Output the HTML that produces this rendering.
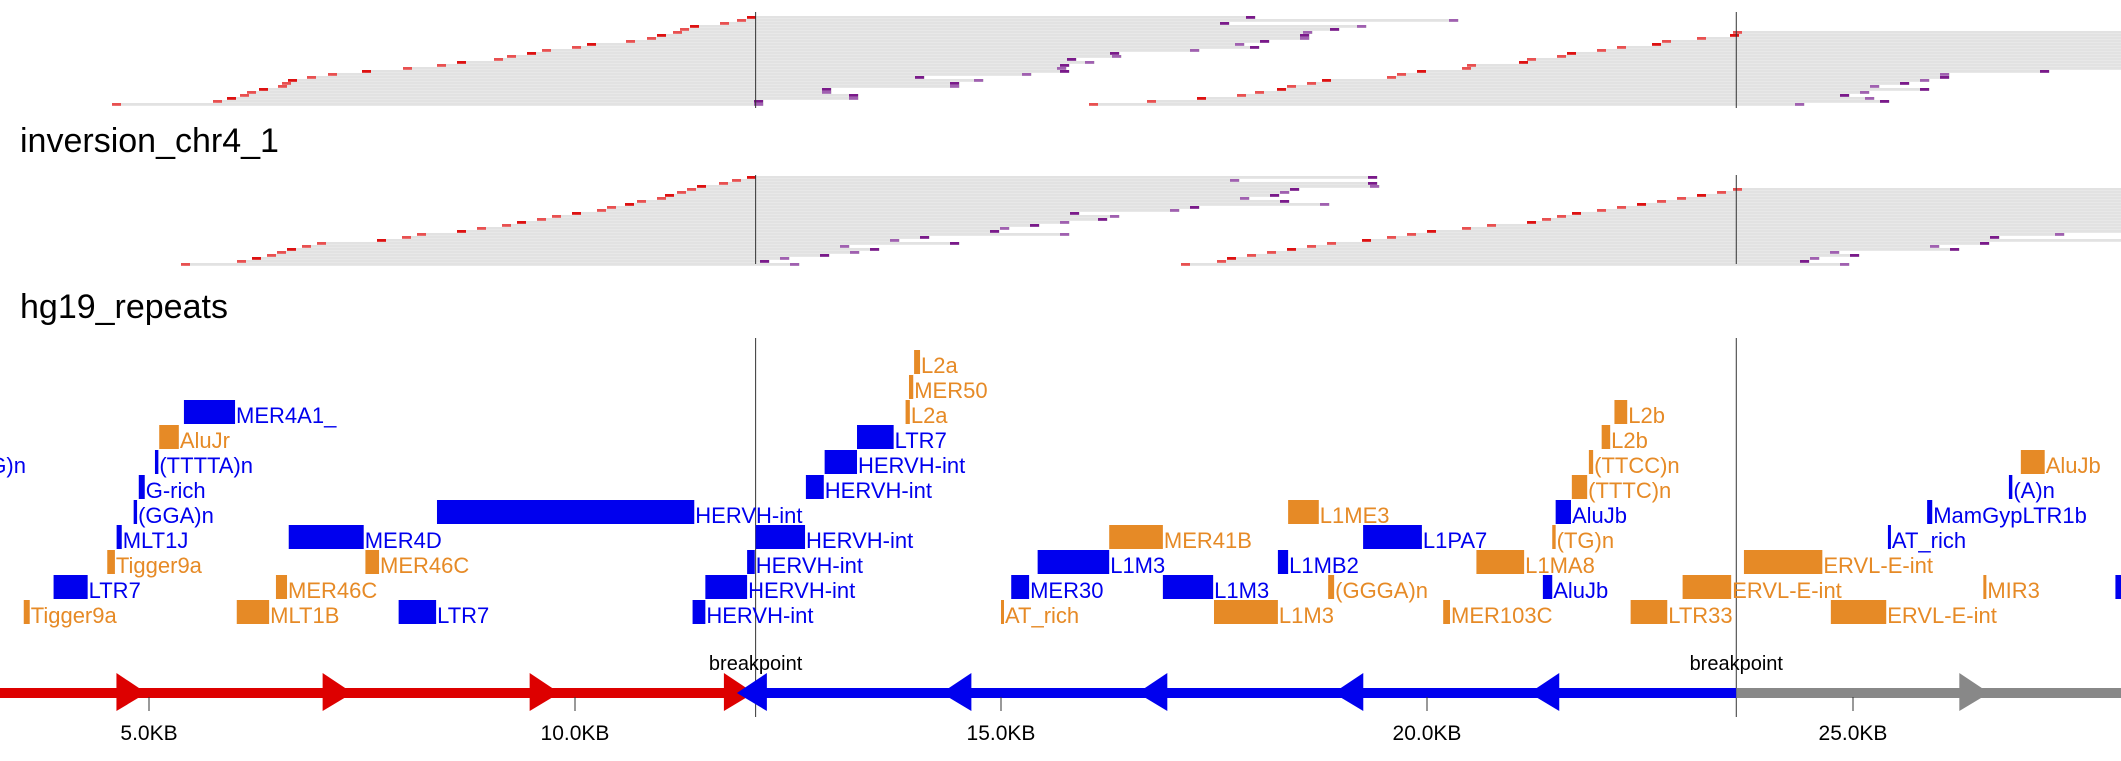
<!DOCTYPE html>
<html><head><meta charset="utf-8"><style>
html,body{margin:0;padding:0;background:#fff;}
svg{display:block;font-family:"Liberation Sans",Arial,sans-serif;}
</style></head><body>
<svg id="chart" width="2121" height="761" viewBox="0 0 2121 761" xmlns="http://www.w3.org/2000/svg">
<g id="reads1"></g>
<text x="20" y="152" font-size="34" fill="#000">inversion_chr4_1</text>
<g id="reads2"></g>
<text x="20" y="318" font-size="34" fill="#000">hg19_repeats</text>
<g id="repeats"></g>
<g id="axis"></g>
</svg>
<script>
// ---- axis data ----
const tickKb = [5, 10, 15, 20, 25];
const tickLabels = ["5.0KB", "10.0KB", "15.0KB", "20.0KB", "25.0KB"];
const breakpointsKb = [12.12, 23.63];
const segStart = [0, 12.12, 23.63];
const segEnd = [12.12, 23.63, 30];
const segDir = [1, -1, 1];
const segColor = ["#dd0000", "#0000ee", "#888888"];
const arrowTipsKb = [[4.97, 7.39, 9.82, 12.1], [11.9, 14.3, 16.6, 18.9, 21.2], [26.6]];

// ---- repeats data (kb) ----
const repStart = [3.53,6.03,7.93,11.38,15.0,17.50,20.19,22.39,24.74,
  3.88,6.49,11.53,15.12,16.90,18.84,21.36,23.00,26.53,28.08,
  4.51,7.54,12.02,15.43,18.25,20.58,23.72,
  4.62,6.64,12.12,16.27,19.25,21.47,25.41,
  4.82,8.38,18.37,21.51,25.87,
  4.88,12.71,21.70,26.83,
  5.07,12.93,21.90,26.97,
  5.12,13.31,22.05,
  5.41,13.88,22.20,
  13.92,
  13.98];
const repEnd = [3.60,6.41,8.37,11.53,15.02,18.25,20.27,22.82,25.39,
  4.28,6.62,12.02,15.33,17.49,18.91,21.47,23.57,26.56,28.15,
  4.60,7.70,12.11,16.27,18.37,21.14,24.64,
  4.68,7.52,12.70,16.90,19.94,21.51,25.43,
  4.86,11.40,18.73,21.69,25.93,
  4.95,12.92,21.88,26.87,
  5.11,13.31,21.95,27.25,
  5.35,13.74,22.15,
  6.01,13.93,22.35,
  13.97,
  14.05];
const repRow = [0,0,0,0,0,0,0,0,0, 1,1,1,1,1,1,1,1,1,1, 2,2,2,2,2,2,2, 3,3,3,3,3,3,3, 4,4,4,4,4, 5,5,5,5, 6,6,6,6, 7,7,7, 8,8,8, 9, 10];
const repName = ["Tigger9a","MLT1B","LTR7","HERVH-int","AT_rich","L1M3","MER103C","LTR33","ERVL-E-int",
  "LTR7","MER46C","HERVH-int","MER30","L1M3","(GGGA)n","AluJb","ERVL-E-int","MIR3","",
  "Tigger9a","MER46C","HERVH-int","L1M3","L1MB2","L1MA8","ERVL-E-int",
  "MLT1J","MER4D","HERVH-int","MER41B","L1PA7","(TG)n","AT_rich",
  "(GGA)n","HERVH-int","L1ME3","AluJb","MamGypLTR1b",
  "G-rich","HERVH-int","(TTTC)n","(A)n",
  "(TTTTA)n","HERVH-int","(TTCC)n","AluJb",
  "AluJr","LTR7","L2b",
  "MER4A1_","L2a","L2b",
  "MER50",
  "L2a"];
const repCls = ["o","o","b","b","o","o","o","o","o",
  "b","o","b","b","b","o","b","o","o","b",
  "o","o","b","b","b","o","o",
  "b","b","b","o","b","o","b",
  "b","b","o","b","b",
  "b","b","o","b",
  "b","b","o","o",
  "o","b","o",
  "b","o","o",
  "o",
  "o"];

// ---- reads data (track 1) ----
const t1AL = [750,740,723,693,683,676,660,650,629,590,575,545,530,510,497,460,440,406,365,331,310,291,285,281,262,250,243,230,216,115];
const t1AR = [1256,1459,1230,1367,1340,1313,1310,1310,1270,1245,1260,1200,1120,1122,1077,1095,1070,1067,1070,1032,925,984,960,960,832,832,859,859,764,764];
const t1BL = [null,null,null,null,null,1736,1733,1700,1665,1655,1620,1600,1570,1560,1530,1522,1470,1465,1420,1400,1390,1325,1310,1290,1280,1258,1240,1200,1150,1092];
const t1BR = [0,0,0,0,0,2121,2121,2121,2121,2121,2121,2121,2121,2121,2121,2121,2121,2121,2050,1950,1950,1930,1910,1880,1930,1870,1850,1875,1890,1805];
// ---- reads data (track 2) ----
const t2AL = [750,735,722,700,690,680,668,660,640,628,610,600,575,555,540,520,505,480,460,420,405,380,320,305,290,280,270,255,240,184];
const t2AR = [1378,1240,1378,1380,1300,1290,1280,1250,1290,1330,1200,1180,1080,1120,1108,1070,1040,1010,1000,1070,930,900,960,850,880,860,830,790,770,800];
const t2BL = [null,null,null,null,1736,1720,1700,1680,1660,1640,1620,1600,1575,1560,1545,1530,1490,1465,1430,1410,1390,1365,1330,1310,1290,1270,1250,1230,1220,1184];
const t2BR = [0,0,0,0,2121,2121,2121,2121,2121,2121,2121,2121,2121,2121,2121,2121,2121,2121,2121,2065,2000,2121,1990,1940,1960,1840,1860,1820,1810,1850];

const NS = "http://www.w3.org/2000/svg";
const X0 = 149, PXKB = 85.2;
function xs(kb){ return X0 + (kb - 5) * PXKB; }
function mk(tag, attrs, parent){ const e = document.createElementNS(NS, tag); for (const k in attrs) e.setAttribute(k, attrs[k]); parent.appendChild(e); return e; }

function drawReads(g, top, AL, AR, BL, BR, bpTop, bpBot){
  const step = 3;
  for (let i = 0; i < AL.length; i++){
    const y = top + i * step;
    const r = mk("rect", {x: AL[i], y: y, width: AR[i] - AL[i], height: 2.8, fill: "#e2e2e2"}, g);
    
    
    const c = mk("rect", {x: AL[i] - 3, y: y, width: 9, height: 2.8, fill: i % 3 ? "#e85050" : "#dd1111"}, g);
    
    
    const p = mk("rect", {x: AR[i] - 10, y: y, width: 9, height: 2.8, fill: i % 2 ? "#a060b0" : "#7a1a8a"}, g);
    
    
    if (BL[i] !== null){
      const r2 = mk("rect", {x: BL[i], y: y, width: BR[i] - BL[i], height: 2.8, fill: "#e2e2e2"}, g);
      
      
      const c2 = mk("rect", {x: BL[i] - 3, y: y, width: 9, height: 2.8, fill: i % 3 ? "#e85050" : "#dd1111"}, g);
      
      
      if (BR[i] < 2121){
        const p2 = mk("rect", {x: BR[i] - 10, y: y, width: 9, height: 2.8, fill: i % 2 ? "#a060b0" : "#7a1a8a"}, g);
        
        
      }
    }
  }
  breakpointsKb.forEach(b => {
    const l = mk("line", {x1: xs(b), x2: xs(b), y1: bpTop, y2: bpBot, stroke: "#333", "stroke-width": 1}, g);
    
    
  });
}
drawReads(document.getElementById("reads1"), 16, t1AL, t1AR, t1BL, t1BR, 12, 108);
drawReads(document.getElementById("reads2"), 176, t2AL, t2AR, t2BL, t2BR, 175, 264);

const rg = document.getElementById("repeats");
breakpointsKb.forEach(b => {
  const l = mk("line", {x1: xs(b), x2: xs(b), y1: 338, y2: 717, stroke: "#333", "stroke-width": 1}, rg);
  
  
});
function drawRep(s, e, row, name, cls){
  const col = cls === "b" ? "#0000ee" : "#e68a26";
  const top = 600 - 25 * row;
  const x1 = xs(s), x2 = Math.max(xs(e), x1 + 3);
  const r = mk("rect", {x: x1, y: top, width: x2 - x1, height: 24, fill: col}, rg);
  
  
  if (name){
    const t = mk("text", {x: x2 + 1, y: top + 23, "font-size": 22, fill: col}, rg);
    t.textContent = name;
    
    
  }
}
for (let i = 0; i < repStart.length; i++) drawRep(repStart[i], repEnd[i], repRow[i], repName[i], repCls[i]);
const gl = mk("text", {x: 26, y: 473, "font-size": 22, fill: "#0000ee", "text-anchor": "end"}, rg);
gl.textContent = "(GG)n";



const ag = document.getElementById("axis");
for (let s = 0; s < segStart.length; s++){
  const x1 = Math.max(0, xs(segStart[s])), x2 = Math.min(2121, xs(segEnd[s]));
  const l = mk("rect", {x: x1, y: 688, width: x2 - x1, height: 10, fill: segColor[s]}, ag);
  
  
  arrowTipsKb[s].forEach(k => {
    const tip = xs(k), base = tip - 30 * segDir[s];
    const p = mk("polygon", {points: `${base},673 ${tip},693 ${base},711`, fill: segColor[s]}, ag);
    
    
  });
}
breakpointsKb.forEach(b => {
  const t = mk("text", {x: xs(b), y: 670, "font-size": 20, "text-anchor": "middle", fill: "#000"}, ag);
  t.textContent = "breakpoint";
  
  
});
tickKb.forEach((k, i) => {
  const l = mk("line", {x1: xs(k), x2: xs(k), y1: 697, y2: 711, stroke: "#333", "stroke-width": 1}, ag);
  
  
  const t = mk("text", {x: xs(k), y: 740, "font-size": 21, "text-anchor": "middle", fill: "#000"}, ag);
  t.textContent = tickLabels[i];
  
  
});
</script>
</body></html>
